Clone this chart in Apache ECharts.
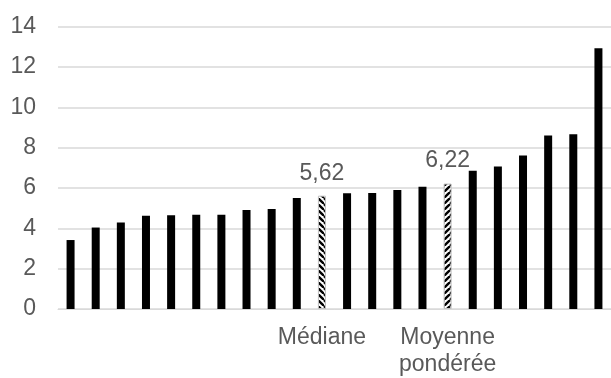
<!DOCTYPE html>
<html>
<head>
<meta charset="utf-8">
<script src="https://cdn.jsdelivr.net/npm/echarts@6/dist/echarts.min.js"></script>
<style>
  html, body { margin: 0; padding: 0; background: #fff; }
  #chart { width: 611px; height: 378px; }
</style>
</head>
<body>
<div id="chart"></div>
<script>
// Category labels (only the two reference bars are named)
var categories = ['', '', '', '', '', '', '', '', '', '', 'Médiane', '', '', '', '', 'Moyenne\npondérée', '', '', '', '', '', ''];
var values = [3.42, 4.04, 4.29, 4.62, 4.65, 4.67, 4.68, 4.91, 4.96, 5.51, 5.62, 5.74, 5.75, 5.90, 6.06, 6.22, 6.85, 7.07, 7.61, 8.61, 8.67, 12.93];
// Which diagonal direction each hatched bar uses
var hatchDown = 'Médiane';
var hatchUp = 'Moyenne\npondérée';
var yTicks = [0, 2, 4, 6, 8, 10, 12, 14];

function stripePattern(down) {
  var s = 6;
  var c = document.createElement('canvas');
  c.width = s; c.height = s;
  var g = c.getContext('2d');
  g.fillStyle = '#fff';
  g.fillRect(0, 0, s, s);
  g.strokeStyle = '#000';
  g.lineWidth = 2.4;
  for (var k = -1; k <= 1; k++) {
    g.beginPath();
    if (down) {
      g.moveTo(k * s, 0); g.lineTo(k * s + s, s);
    } else {
      g.moveTo(k * s, s); g.lineTo(k * s + s, 0);
    }
    g.stroke();
  }
  return { image: c, repeat: 'repeat' };
}

var fontFam = '"Liberation Sans", Arial, sans-serif';
var textColor = '#595959';
var fs = 23;

var data = values.map(function (v, i) {
  var name = categories[i];
  if (name === hatchDown || name === hatchUp) {
    return {
      value: v,
      itemStyle: { color: stripePattern(name === hatchDown), borderColor: '#bfbfbf', borderWidth: 1 },
      label: {
        show: true, position: 'top', distance: 11,
        fontSize: fs, fontFamily: fontFam, color: textColor,
        formatter: function (p) { return String(p.value).replace('.', ','); }
      }
    };
  }
  return { value: v };
});

var chart = echarts.init(document.getElementById('chart'), null, { renderer: 'canvas' });
chart.setOption({
  animation: false,
  grid: { left: 58, width: 554, top: 26.7, bottom: 67.3 },
  xAxis: {
    type: 'category',
    data: categories,
    axisLine: { lineStyle: { color: '#d9d9d9', width: 1 } },
    axisTick: { show: false },
    axisLabel: {
      interval: 0, margin: 15, fontSize: fs, lineHeight: 27,
      fontFamily: fontFam, color: textColor
    }
  },
  yAxis: {
    type: 'value',
    min: yTicks[0], max: yTicks[yTicks.length - 1], interval: 2,
    axisLine: { show: false },
    axisTick: { show: false },
    splitLine: { lineStyle: { color: '#d9d9d9', width: 1.5 } },
    axisLabel: { margin: 22, fontSize: fs, fontFamily: fontFam, color: textColor }
  },
  series: [{
    type: 'bar',
    data: data,
    barWidth: 8,
    itemStyle: { color: '#000' }
  }]
});
</script>
</body>
</html>
